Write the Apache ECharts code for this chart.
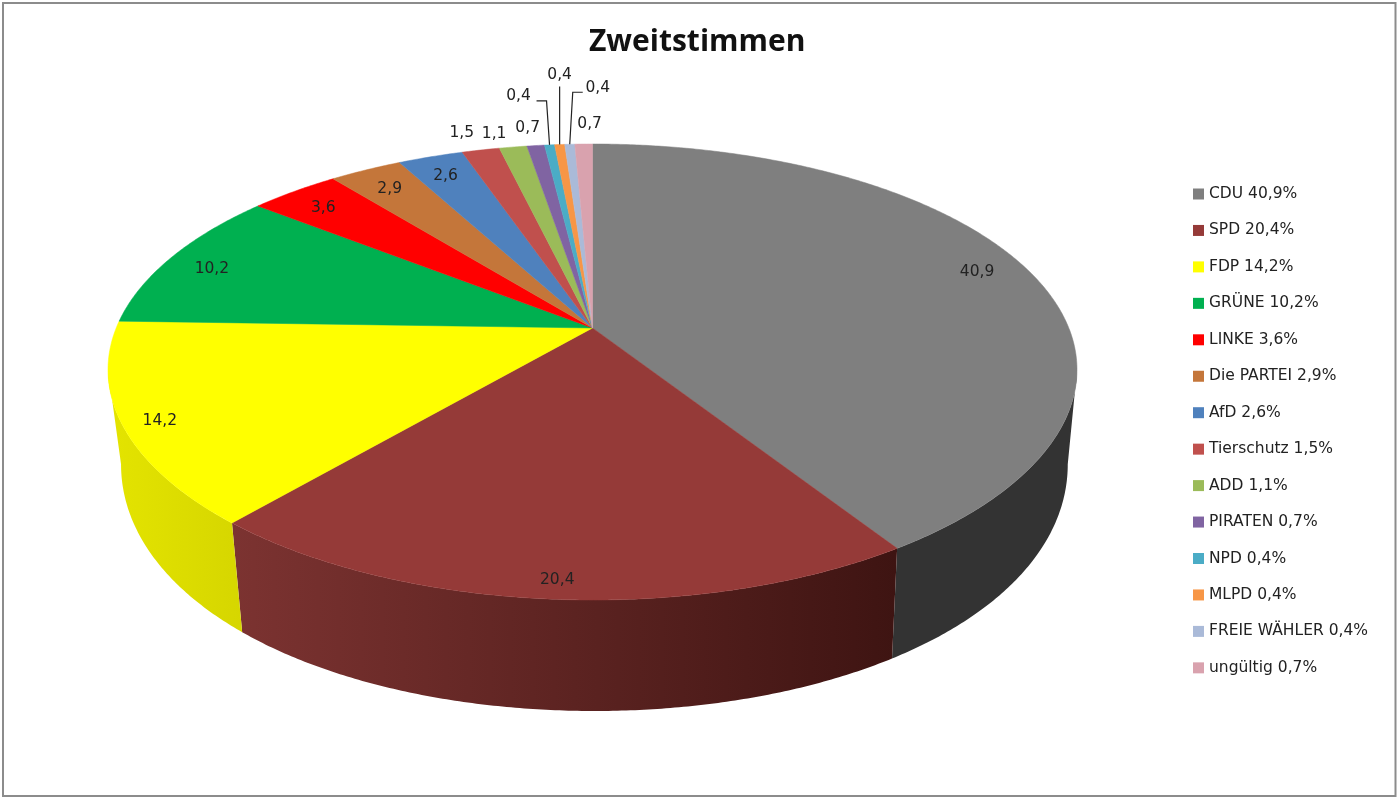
<!DOCTYPE html>
<html>
<head>
<meta charset="utf-8">
<style>
html,body{margin:0;padding:0;background:#fff;}
#main{width:1399px;height:800px;}
</style>
<script src="https://cdn.jsdelivr.net/npm/echarts@6/dist/echarts.min.js"></script>
</head>
<body>
<div id="main"></div>
<script>
// Zweitstimmen
var parties = ["CDU","SPD","FDP","GRÜNE","LINKE","Die PARTEI","AfD","Tierschutz","ADD","PIRATEN","NPD","MLPD","FREIE WÄHLER","ungültig"];
var shares = [40.9,20.4,14.2,10.2,3.6,2.9,2.6,1.5,1.1,0.7,0.4,0.4,0.4,0.7];
var colors = ["#7f7f7f","#953a38","#ffff00","#00b050","#ff0000","#c4763a","#4f81bd","#c0504d","#9bbb59","#8064a2","#4bacc6","#f79646","#aabad8","#d9a2ae"];
// side wall colour, left to right
var wallColors = {
    0: ["#333333","#333333"],
    1: ["#7c3331","#3e1412"],
    2: ["#e4e400","#d6d600"]
};
// label position relative to the rim point of the slice's middle
var labelShift = [[-50,3],[5,-19],[38,-3],[40,12],[29,17],[24,19],[15,19],[-19,-17],[-19,-13],[-8,-18],[-31,-49],[0,-70],[28,-56],[6,-20]];
// leader lines, same reference point
var leaders = {
    10: [[-3,-44],[-13,-44]],
    11: [[0,-58]],
    12: [[3,-52],[13,-52]]
};

// the disc: an ellipse seen in perspective, the centre of the circle is not the centre of the ellipse
var cx = 592.5, cy = 372, rx = 484.5, ry = 228;
var tiltY = 0.193, tiltX = 0.183;
var depth = 111, bottomScale = 0.977, bottomShift = 1.9;
var labelFont = "DejaVu Sans";

function projectAt(a, r) {
    var x = Math.sin(a) * r, y = -Math.cos(a) * r;
    return [
        cx + rx * x * Math.sqrt(1 - tiltX * tiltX) / (1 - tiltX * y),
        cy + ry * (y - tiltY) / (1 - tiltY * y)
    ];
}
function project(pct) {
    return projectAt(pct * 3.6 * Math.PI / 180, 1);
}
function bottomPoint(p) {
    // the lower rim sits a little higher towards the sides
    var v = 1 - (p[1] - cy) / ry;
    return [cx + bottomShift + (p[0] - cx) * bottomScale, p[1] + depth - 16 * v * v];
}

function arc(from, to) {
    var pts = [];
    var n = Math.max(2, Math.ceil((to - from) * 8));
    for (var i = 0; i <= n; i++) {
        pts.push(project(from + (to - from) * i / n));
    }
    return pts;
}

function fmt(v) {
    return v.toFixed(1).replace(".", ",");
}

var starts = [];
var sum = 0;
shares.forEach(function (v) {
    starts.push(sum);
    sum += v;
});

// wall is seen only where the rim faces the viewer
var wallFrom = Math.acos(-tiltX) * 180 / Math.PI / 3.6;
var wallTo = 100 - wallFrom;

function renderSlice(idx) {
    return function (params, api) {
        var value = api.value(0);
        var from = starts[idx], to = from + value;
        var children = [];

        var wa = Math.max(from, wallFrom), wb = Math.min(to, wallTo);
        if (wb > wa) {
            var top = arc(wa, wb);
            var bottom = top.map(bottomPoint).reverse();
            var xs = top.concat(bottom).map(function (p) { return p[0]; });
            var fill = new echarts.graphic.LinearGradient(
                Math.min.apply(null, xs), 0, Math.max.apply(null, xs), 0,
                [{offset: 0, color: wallColors[idx][0]}, {offset: 1, color: wallColors[idx][1]}], true);
            children.push({
                type: "polygon",
                shape: {points: top.concat(bottom)},
                style: {fill: fill}
            });
        }

        children.push({
            type: "polygon",
            shape: {points: [projectAt(0, 0)].concat(arc(from, to))},
            style: {fill: colors[idx], stroke: colors[idx], lineWidth: 0.5}
        });

        var rim = project(from + value / 2);
        if (leaders[idx]) {
            var line = [rim].concat(leaders[idx].map(function (o) { return [rim[0] + o[0], rim[1] + o[1]]; }));
            children.push({
                type: "polyline",
                shape: {points: line},
                style: {fill: null, stroke: "#222", lineWidth: 1.2}
            });
        }
        children.push({
            type: "text",
            style: {
                text: fmt(value),
                x: rim[0] + labelShift[idx][0],
                y: rim[1] + labelShift[idx][1],
                align: "center",
                verticalAlign: "middle",
                fill: "#222",
                font: "15.5px " + labelFont
            }
        });
        return {type: "group", children: children};
    };
}

var seriesList = [];
var legendNames = [];
parties.forEach(function (name, i) {
    var label = name + " " + fmt(shares[i]) + "%";
    legendNames.push(label);
    seriesList.push({
        name: label,
        type: "custom",
        coordinateSystem: "none",
        renderItem: renderSlice(i),
        itemStyle: {color: colors[i]},
        animation: false,
        silent: true,
        data: [[shares[i]]]
    });
});

var chart = echarts.init(document.getElementById("main"), null, {renderer: "canvas"});
chart.setOption({
    backgroundColor: "#fff",
    animation: false,
    title: {
        text: "Zweitstimmen",
        left: 584,
        top: 22,
        textStyle: {fontFamily: "Open Sans", fontSize: 30, fontWeight: "bold", color: "#111"}
    },
    legend: {
        orient: "vertical",
        left: 1188,
        top: 180,
        data: legendNames,
        icon: "rect",
        itemWidth: 11,
        itemHeight: 11,
        itemGap: 18.45,
        selectedMode: false,
        textStyle: {fontFamily: labelFont, fontSize: 15.5, color: "#222", height: 18, lineHeight: 18, padding: [0,0,0,0]}
    },
    graphic: [{
        type: "rect",
        shape: {x: 3, y: 3, width: 1392.5, height: 793},
        style: {fill: null, stroke: "#8c8c8c", lineWidth: 2},
        silent: true
    }],
    series: seriesList
});
</script>
</body>
</html>
